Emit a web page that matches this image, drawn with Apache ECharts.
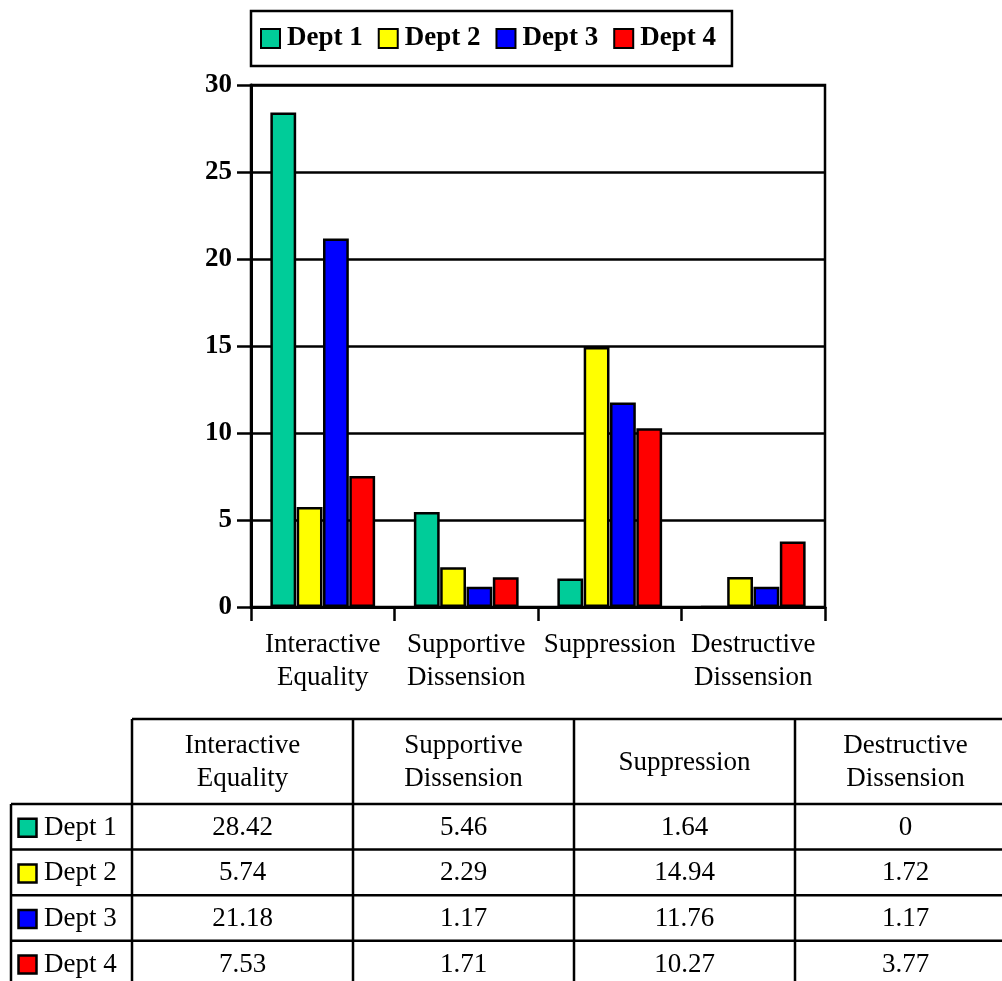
<!DOCTYPE html>
<html>
<head>
<meta charset="utf-8">
<script src="https://cdn.jsdelivr.net/npm/echarts@6/dist/echarts.min.js"></script>
<style>
  html, body { margin: 0; padding: 0; background: #fff; }
  #chart { width: 1002px; height: 981px; }
</style>
</head>
<body>
<div id="chart"></div>
<script>
// Categories, series and tick values
const categories = ['Interactive Equality', 'Supportive Dissension', 'Suppression', 'Destructive Dissension'];
const categoryLabels = ['Interactive\nEquality', 'Supportive\nDissension', 'Suppression', 'Destructive\nDissension'];
const seriesNames = ['Dept 1', 'Dept 2', 'Dept 3', 'Dept 4'];
const dept1 = [28.42, 5.46, 1.64, 0];
const dept2 = [5.74, 2.29, 14.94, 1.72];
const dept3 = [21.18, 1.17, 11.76, 1.17];
const dept4 = [7.53, 1.71, 10.27, 3.77];
const yTicks = [0, 5, 10, 15, 20, 25, 30];

const seriesData = [dept1, dept2, dept3, dept4];
const colors = ['#00CC99', '#FFFF00', '#0000FF', '#FF0000'];
const SERIF = '"Liberation Serif", "Times New Roman", serif';

// Data table under the chart, built from the same arrays
function buildTable() {
  const els = [];
  const line = (x1, y1, x2, y2) => els.push({
    type: 'line', silent: true,
    shape: { x1, y1, x2, y2 },
    style: { stroke: '#000', lineWidth: 2.5 }
  });
  const text = (t, x, y, align) => els.push({
    type: 'text', silent: true,
    style: {
      text: t, x, y, align: align || 'center', verticalAlign: 'middle',
      font: '27px ' + SERIF, lineHeight: 33, fill: '#000'
    }
  });
  const colX = [132, 353, 574, 795, 1016];
  const labelX = 11;
  const headTop = 719, headBottom = 804, rowH = 45.6;
  const rowY = seriesNames.map((_, i) => headBottom + i * rowH);
  const tableBottom = headBottom + seriesNames.length * rowH;

  // horizontal rules
  line(colX[0], headTop, colX[colX.length - 1], headTop);
  line(labelX, headBottom, colX[colX.length - 1], headBottom);
  rowY.slice(1).forEach(y => line(labelX, y, colX[colX.length - 1], y));
  line(labelX, tableBottom, colX[colX.length - 1], tableBottom);
  // vertical rules
  line(labelX, headBottom, labelX, tableBottom);
  colX.forEach(x => line(x, headTop, x, tableBottom));

  // header cells
  categoryLabels.forEach((c, j) => text(c, (colX[j] + colX[j + 1]) / 2, (headTop + headBottom) / 2 + 1));
  // body rows
  seriesNames.forEach((name, i) => {
    const cy = rowY[i] + rowH / 2 + 1;
    els.push({
      type: 'rect', silent: true,
      shape: { x: 18.5, y: cy - 9, width: 18, height: 18 },
      style: { fill: colors[i], stroke: '#000', lineWidth: 2.5 }
    });
    text(name, 44, cy, 'left');
    seriesData[i].forEach((v, j) => text(String(v), (colX[j] + colX[j + 1]) / 2, cy));
  });
  return els;
}

const chart = echarts.init(document.getElementById('chart'), null, { renderer: 'canvas' });
chart.setOption({
  animation: false,
  backgroundColor: '#fff',
  legend: {
    data: seriesNames,
    left: 251, top: 11,
    orient: 'horizontal',
    icon: 'rect',
    itemWidth: 19, itemHeight: 19,
    itemGap: 15,
    padding: [14, 16, 14, 9],
    borderColor: '#000', borderWidth: 2.5,
    textStyle: {
      fontFamily: SERIF, fontWeight: 'bold', fontSize: 27, color: '#000',
      padding: [0, 0, 0, 2]
    }
  },
  grid: {
    left: 251, top: 85, width: 574, height: 522,
    show: true, borderColor: '#000', borderWidth: 2.5,
    containLabel: false
  },
  xAxis: {
    type: 'category',
    data: categories,
    axisLine: { show: true, lineStyle: { color: '#000', width: 3 } },
    axisTick: { show: true, length: 14, lineStyle: { color: '#000', width: 2.5 } },
    axisLabel: {
      formatter: (v, i) => categoryLabels[i],
      fontFamily: SERIF, fontSize: 27, lineHeight: 33, color: '#000', margin: 21,
      interval: 0
    },
    splitLine: { show: false }
  },
  yAxis: {
    type: 'value',
    min: yTicks[0], max: yTicks[yTicks.length - 1], interval: 5,
    axisLine: { show: true, lineStyle: { color: '#000', width: 3 } },
    axisTick: { show: true, inside: false, length: 14, lineStyle: { color: '#000', width: 2.5 } },
    axisLabel: {
      fontFamily: SERIF, fontWeight: 'bold', fontSize: 27, color: '#000', margin: 19,
      padding: [5, 0, 0, 0]
    },
    splitLine: { show: true, lineStyle: { color: '#000', width: 2.5 } }
  },
  series: seriesNames.map((name, i) => ({
    name,
    type: 'bar',
    data: seriesData[i],
    barGap: '2%',
    barCategoryGap: '27%',
    itemStyle: { color: colors[i], borderColor: '#000', borderWidth: 2.5 }
  })),
  graphic: buildTable()
});
</script>
</body>
</html>
